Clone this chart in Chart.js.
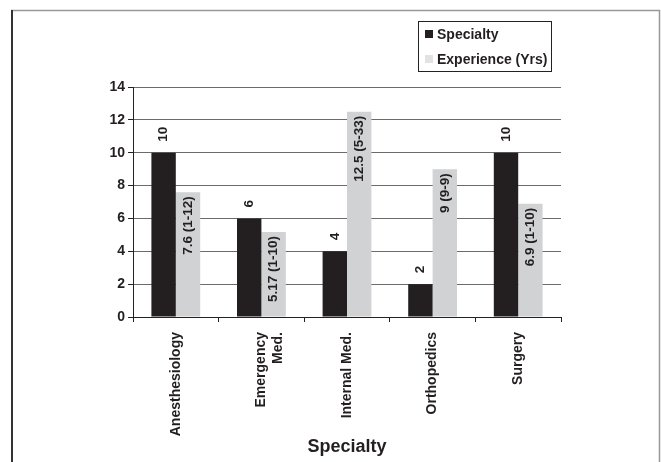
<!DOCTYPE html>
<html>
<head>
<meta charset="utf-8">
<script src="https://cdn.jsdelivr.net/npm/chart.js@4"></script>
<style>
  body { margin: 0; background: #fff; }
  canvas { display: block; }
</style>
</head>
<body>
<canvas id="chart" width="661" height="462"></canvas>
<script>
const categories = ['Anesthesiology', ['Emergency', 'Med.'], 'Internal Med.', 'Orthopedics', 'Surgery']
const specialtyCounts = [10, 6, 4, 2, 10]
const experienceYears = [7.6, 5.17, 12.5, 9, 6.9]
const experienceLabels = ['7.6 (1-12)', '5.17 (1-10)', '12.5 (5-33)', '9 (9-9)', '6.9 (1-10)']
const yTicks = [0, 2, 4, 6, 8, 10, 12, 14]

const ink = '#231f20'
const font = 'Liberation Sans, Arial, Helvetica, sans-serif'

// page frame and legend box, like the scanned figure
const framePlugin = {
    id: 'frame',
    beforeDraw(chart) {
        const ctx = chart.ctx
        ctx.save()
        ctx.fillStyle = '#fff'
        ctx.fillRect(0, 0, chart.width, chart.height)
        ctx.strokeStyle = '#999'
        ctx.lineWidth = 1.5
        ctx.beginPath()
        ctx.moveTo(11, 10.5)
        ctx.lineTo(659.5, 10.5)
        ctx.lineTo(659.5, 462)
        ctx.stroke()
        ctx.strokeStyle = '#333'
        ctx.lineWidth = 2
        ctx.beginPath()
        ctx.moveTo(12, 10)
        ctx.lineTo(12, 462)
        ctx.stroke()
        ctx.restore()
    },
    afterDraw(chart) {
        const ctx = chart.ctx
        ctx.save()
        ctx.strokeStyle = '#222'
        ctx.lineWidth = 1
        ctx.strokeRect(418.5, 21.5, 133, 50)
        ctx.font = 'bold 14px ' + font
        ctx.textBaseline = 'middle'
        chart.data.datasets.forEach((ds, i) => {
            const y = 34 + i * 25
            ctx.fillStyle = i === 0 ? ds.backgroundColor : '#e2e2e2'
            ctx.fillRect(425, y - 4, 8, 8)
            ctx.fillStyle = ink
            ctx.fillText(ds.label, 437, y + 1)
        })
        ctx.restore()
    }
}

// rotated value labels: above the dark bars, inside the top of the grey bars
const valueLabels = {
    id: 'valueLabels',
    afterDatasetsDraw(chart) {
        const ctx = chart.ctx
        ctx.save()
        ctx.font = 'bold 13.5px ' + font
        ctx.fillStyle = ink
        ctx.textBaseline = 'middle'
        chart.getDatasetMeta(0).data.forEach((bar, i) => {
            ctx.save()
            ctx.translate(bar.x, bar.y - 11)
            ctx.rotate(-Math.PI / 2)
            ctx.textAlign = 'left'
            ctx.fillText(String(specialtyCounts[i]), 0, 0)
            ctx.restore()
        })
        chart.getDatasetMeta(1).data.forEach((bar, i) => {
            ctx.save()
            ctx.translate(bar.x, bar.y + 4)
            ctx.rotate(-Math.PI / 2)
            ctx.textAlign = 'right'
            ctx.fillText(experienceLabels[i], 0, 0)
            ctx.restore()
        })
        ctx.restore()
    }
}

new Chart(document.getElementById('chart'), {
    type: 'bar',
    data: {
        labels: categories,
        datasets: [{
            label: 'Specialty',
            data: specialtyCounts,
            backgroundColor: ink,
            categoryPercentage: 0.57,
            barPercentage: 1
        }, {
            label: 'Experience (Yrs)',
            data: experienceYears,
            backgroundColor: '#d1d2d4',
            categoryPercentage: 0.57,
            barPercentage: 1
        }]
    },
    options: {
        responsive: false,
        animation: false,
        layout: { padding: { left: 0, right: 100, top: 87, bottom: 0 } },
        plugins: {
            legend: { display: false },
            tooltip: { enabled: false }
        },
        scales: {
            x: {
                offset: true,
                grid: { offset: true, drawOnChartArea: false, tickLength: 5, tickColor: '#222' },
                border: { color: '#222', width: 1 },
                ticks: {
                    minRotation: 90,
                    maxRotation: 90,
                    padding: 10,
                    color: ink,
                    font: { family: font, size: 14, weight: 'bold' }
                },
                title: {
                    display: true,
                    text: 'Specialty',
                    color: ink,
                    font: { family: font, size: 18, weight: 'bold' },
                    padding: { top: 0, bottom: 4 }
                },
                afterFit(scale) { scale.height = 145 }
            },
            y: {
                min: 0,
                max: 14,
                afterBuildTicks(scale) { scale.ticks = yTicks.map(v => ({ value: v })) },
                grid: { color: '#6b6b6b', lineWidth: 1, tickLength: 5, tickColor: '#222' },
                border: { color: '#222', width: 1 },
                ticks: {
                    padding: 3,
                    color: ink,
                    font: { family: font, size: 14, weight: 'bold' }
                },
                afterFit(scale) { scale.width = 133 }
            }
        }
    },
    plugins: [framePlugin, valueLabels]
})
</script>
</body>
</html>
